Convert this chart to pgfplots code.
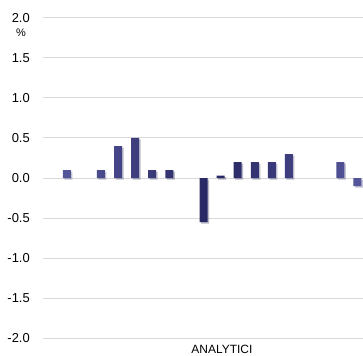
\documentclass[border=0pt]{standalone}
\usepackage{pgfplots}
\pgfplotsset{compat=1.18}
\usepackage{fontspec}
\setmainfont{Liberation Sans}
\usetikzlibrary{shadows}
\definecolor{bardark}{RGB}{38,38,98}
\definecolor{barlight}{RGB}{85,85,155}
\definecolor{gridc}{RGB}{217,217,217}
\begin{document}
\begin{tikzpicture}
\begin{axis}[
  name=ax,
  scale only axis,
  width=320bp, height=320bp,
  xmin=-1.39, xmax=17.33,
  ymin=-2, ymax=2,
  ytick={-2,-1.5,-1,-0.5,0,0.5,1,1.5,2},
  xtick=\empty,
  axis line style={draw=none},
  major tick length=0pt,
  ymajorgrids,
  grid style={gridc, line width=1bp},
  /pgf/number format/assume math mode=true,
  /pgf/number format/.cd, fixed, fixed zerofill, precision=1,
  /pgfplots/.cd,
  yticklabel style={font=\fontsize{13}{15}\selectfont, anchor=east, inner sep=0pt, xshift=-13bp},
  clip=false,
]
\addplot[ybar, bar width=8bp, draw=none, left color=barlight, right color=barlight, middle color=bardark,
  drop shadow={opacity=0.22, shadow xshift=1.5bp, shadow yshift=-1.5bp}]
  coordinates {
  (0,0.1) (2,0.1) (3,0.4) (4,0.5) (5,0.1) (6,0.1)
  (8,-0.55) (9,0.03) (10,0.2) (11,0.2) (12,0.2) (13,0.3)
  (16,0.2) (17,-0.1)
  };
\node[font=\fontsize{11}{13}\selectfont, inner sep=0pt] at ([xshift=-22bp,yshift=-15bp]rel axis cs:0,1) {\%};
\node[font=\fontsize{12}{14}\selectfont, anchor=north, inner sep=0pt] at ([yshift=-6.5bp]rel axis cs:0.559,0) {ANALYTICI};
\end{axis}
\pgfresetboundingbox
\path[use as bounding box] ([xshift=-43bp,yshift=-18bp]ax.south west) rectangle ([yshift=18bp]ax.north east);
\end{tikzpicture}
\end{document}
